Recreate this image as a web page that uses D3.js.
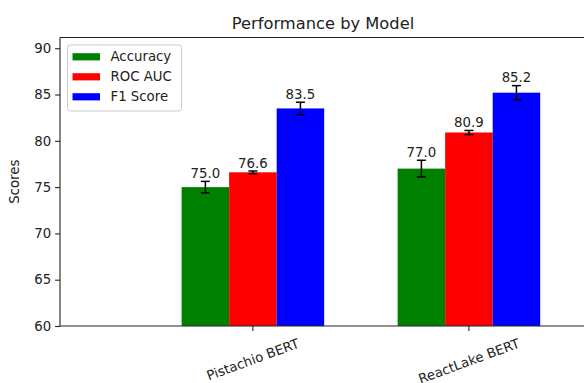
<!DOCTYPE html>
<html>
<head>
<meta charset="utf-8">
<script src="https://cdn.jsdelivr.net/npm/d3@7"></script>
<style>
  html, body { margin: 0; padding: 0; background: #fff; }
  svg { display: block; font-family: "DejaVu Sans", sans-serif; }
</style>
</head>
<body>
<svg id="chart" width="584" height="383"></svg>
<script>
// Model categories and per-metric scores
const models = ["Pistachio BERT", "ReactLake BERT"];
const metrics = ["Accuracy", "ROC AUC", "F1 Score"];
const colors = ["#008000", "#ff0000", "#0000ff"];
const accuracy = [75.0, 77.0];
const rocAuc = [76.6, 80.9];
const f1Score = [83.5, 85.2];
// Standard deviations drawn as error bars
const accuracyErr = [0.62, 0.9];
const rocAucErr = [0.14, 0.22];
const f1ScoreErr = [0.67, 0.76];
const yTicks = [60, 65, 70, 75, 80, 85, 90];

const seriesValues = [accuracy, rocAuc, f1Score];
const seriesErrors = [accuracyErr, rocAucErr, f1ScoreErr];

const svg = d3.select("#chart");
const plotLeft = 60, plotTop = 37.5, plotRight = 586, plotBottom = 326;
const barW = 0.22;

// x: model index in data units; y: score
const x = d3.scaleLinear().domain([-0.893, 1.542]).range([plotLeft, plotRight]);
const y = d3.scaleLinear().domain([60, 91.16]).range([plotBottom, plotTop]);

const fontSize = 13.3;

// bars
const g = svg.append("g");
metrics.forEach((m, si) => {
  const off = (si - 1) * barW;
  const vals = seriesValues[si];
  g.selectAll(null).data(vals).enter().append("rect")
    .attr("x", (d, i) => x(i + off - barW / 2))
    .attr("width", x(barW) - x(0))
    .attr("y", d => y(d))
    .attr("height", d => y(60) - y(d))
    .attr("fill", colors[si]);
});

// error bars and value labels
metrics.forEach((m, si) => {
  const off = (si - 1) * barW;
  const vals = seriesValues[si];
  const errs = seriesErrors[si];
  vals.forEach((v, i) => {
    const cx = x(i + off);
    const e = errs[i];
    g.append("line").attr("x1", cx).attr("x2", cx)
      .attr("y1", y(v - e)).attr("y2", y(v + e))
      .attr("stroke", "#000").attr("stroke-width", 1.5);
    [v - e, v + e].forEach(yy => {
      g.append("line").attr("x1", cx - 4.5).attr("x2", cx + 4.5)
        .attr("y1", y(yy)).attr("y2", y(yy))
        .attr("stroke", "#000").attr("stroke-width", 1.5);
    });
    g.append("text").attr("x", cx).attr("y", y(v + e) - 3.3)
      .attr("text-anchor", "middle").attr("font-size", fontSize)
      .attr("fill", "#222").text(v.toFixed(1));
  });
});

// spines
const spine = (x1, y1, x2, y2) => svg.append("line")
  .attr("x1", x1).attr("y1", y1).attr("x2", x2).attr("y2", y2)
  .attr("stroke", "#222").attr("stroke-width", 1.1);
spine(plotLeft, plotTop, plotLeft, plotBottom);
spine(plotLeft, plotBottom, plotRight, plotBottom);
spine(plotLeft, plotTop, plotRight, plotTop);
spine(plotRight, plotTop, plotRight, plotBottom);

// y axis
const yAxis = d3.axisLeft(y).tickValues(yTicks).tickSize(4.9).tickPadding(4).tickFormat(d3.format("d"));
const ya = svg.append("g").attr("transform", `translate(${plotLeft},0)`).call(yAxis);
ya.select(".domain").remove();
ya.selectAll(".tick line").attr("stroke", "#222").attr("stroke-width", 1.1);
ya.selectAll(".tick text").attr("font-size", fontSize).attr("fill", "#222")
  .attr("font-family", "DejaVu Sans, sans-serif");

// x axis ticks with rotated labels
const xa = svg.append("g");
models.forEach((name, i) => {
  const tx = x(i);
  xa.append("line").attr("x1", tx).attr("x2", tx).attr("y1", plotBottom).attr("y2", plotBottom + 4.9)
    .attr("stroke", "#222").attr("stroke-width", 1.1);
  const t = xa.append("text")
    .attr("text-anchor", "middle").attr("dominant-baseline", "central")
    .attr("font-size", fontSize).attr("fill", "#222").text(name);
  const w = t.node().getComputedTextLength();
  const a = 20 * Math.PI / 180;
  const h = w * Math.sin(a) + fontSize * 1.15 * Math.cos(a);
  t.attr("transform", `translate(${tx},${plotBottom + 4.9 + 4.9 + h / 2}) rotate(-20)`);
});

// axis title and chart title
svg.append("text").attr("transform", `translate(19,${(plotTop + plotBottom) / 2}) rotate(-90)`)
  .attr("text-anchor", "middle").attr("font-size", fontSize).attr("fill", "#222").text("Scores");
svg.append("text").attr("x", (plotLeft + plotRight) / 2).attr("y", 29)
  .attr("text-anchor", "middle").attr("font-size", 16.3).attr("fill", "#222")
  .text("Performance by Model");

// legend
const lg = svg.append("g");
lg.append("rect").attr("x", 67.5).attr("y", 45).attr("width", 114).attr("height", 66)
  .attr("rx", 2.5).attr("fill", "#fff").attr("fill-opacity", 0.8)
  .attr("stroke", "#ccc").attr("stroke-width", 1);
metrics.forEach((m, si) => {
  const cy = 56.8 + si * 20;
  lg.append("rect").attr("x", 72.5).attr("y", cy - 3.6).attr("width", 27.5).attr("height", 7.2)
    .attr("fill", colors[si]);
  lg.append("text").attr("x", 110.5).attr("y", cy).attr("dominant-baseline", "central")
    .attr("font-size", fontSize).attr("fill", "#222").text(m);
});
</script>
</body>
</html>
